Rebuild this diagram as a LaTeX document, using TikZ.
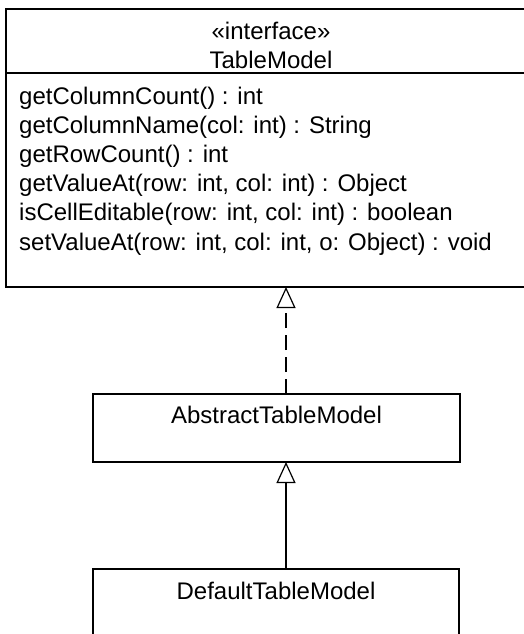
\documentclass[tikz,border=0pt]{standalone}
\usepackage{fontspec}
\setmainfont{Liberation Sans}
\usetikzlibrary{arrows.meta,positioning,calc}
\tikzset{
  cls/.style={
    draw,
    rectangle,
    inner sep=0pt,
    outer sep=0pt,
    anchor=north west,
    align=center,
    font=\fontsize{24}{29.2}\selectfont,
    line width=1.4pt
  },
  oplist/.style={inner sep=0pt,anchor=base west,align=left,
                 font=\fontsize{24}{29.2}\selectfont},
  realize/.style={-{Triangle[open,length=21pt,width=19pt,line width=1.2pt]},
                  line width=1.2pt,dash pattern=on 15pt off 7pt},
  inherit/.style={-{Triangle[open,length=21pt,width=19pt,line width=1.2pt]},
                  line width=1.2pt}
}
\begin{document}
\begin{tikzpicture}[x=1pt,y=1pt]
  \useasboundingbox (0,0) rectangle (524,-634);
  \clip (0,0) rectangle (524,-634);

  % Interface with its operations.
  \node[cls,minimum width=530pt,minimum height=64pt,text height=59.5pt,text depth=4.5pt] (iface) at (6,-9)
    {\guillemotleft interface\guillemotright\\TableModel};
  \node[cls,minimum width=530pt,minimum height=214pt,below=0pt of iface.south west,anchor=north west] (ops) {};
  \node[oplist] (optext) at (19,-250)
    {getColumnCount() : int\\getColumnName(col: int) : String\\getRowCount() : int\\getValueAt(row: int, col: int) : Object\\isCellEditable(row: int, col: int) : boolean\\setValueAt(row: int, col: int, o: Object) : void};

  % Implementing classes.
  \node[cls,minimum width=367pt,minimum height=68pt,text height=29pt,text depth=39pt] (abstract) at (93,-394)
    {AbstractTableModel};
  \node[cls,minimum width=366pt,minimum height=90pt,text height=30pt,text depth=60pt] (default) at (93,-569)
    {DefaultTableModel};

  \coordinate (axis) at (286,0);
  \draw[realize] (abstract.north -| axis) -- (ops.south -| axis);
  \draw[inherit] (default.north -| axis) -- (abstract.south -| axis);
\end{tikzpicture}
\end{document}
